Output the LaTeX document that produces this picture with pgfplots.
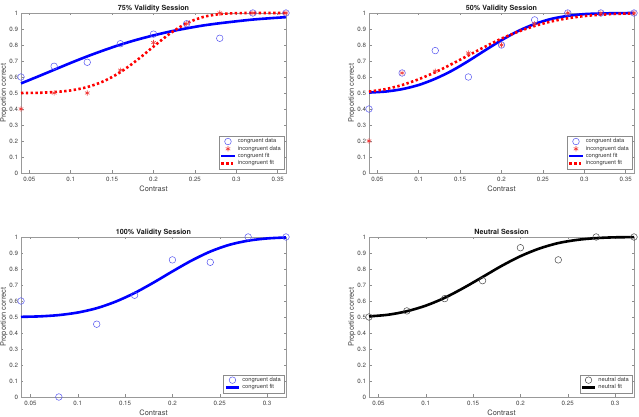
\documentclass[border=0pt]{standalone}
\usepackage{fontspec}
\setmainfont{TeX Gyre Heros}
\usepackage{pgfplots}
\pgfplotsset{compat=1.18}

\definecolor{congr}{RGB}{0,0,255}
\definecolor{congrpt}{RGB}{85,85,240}
\definecolor{incon}{RGB}{255,0,0}
\definecolor{inconpt}{RGB}{240,60,60}
\definecolor{neutpt}{RGB}{70,70,70}

\pgfplotsset{
  psy/.style={
    scale only axis, width=265bp, height=160bp,
    xmin=0.04, ymin=0, ymax=1, clip=false,
    /pgf/number format/assume math mode=true,
    scaled ticks=false,
    ytick={0,0.1,0.2,0.3,0.4,0.5,0.6,0.7,0.8,0.9,1},
    yticklabels={0,0.1,0.2,0.3,0.4,0.5,0.6,0.7,0.8,0.9,1},
    tick align=inside, major tick length=2.5bp,
    axis line style={black!40, line width=0.45bp},
    tick style={black!45, line width=0.45bp},
    tick label style={font=\fontsize{6.2}{7}\selectfont, text=black!75},
    xticklabel style={yshift=-0.5bp},
    yticklabel style={xshift=0.5bp},
    xlabel=Contrast, ylabel=Proportion correct,
    xlabel style={at={(axis description cs:0.5,0)}, anchor=center, yshift=-16bp,
      font=\fontsize{7.5}{8}\selectfont, text=black!75},
    ylabel style={at={(axis description cs:-0.064,0.5)}, anchor=center,
      font=\fontsize{7.5}{8}\selectfont, text=black!75},
    every axis title shift=0pt,
    title style={at={(axis description cs:0.5,1)}, anchor=base, yshift=2.6bp,
      font=\bfseries\fontsize{7.2}{8}\selectfont, text=black!90},
    legend cell align=left,
    legend style={at={(axis description cs:1,0)}, anchor=south east,
      xshift=-2bp, yshift=4bp, draw=black!45, line width=0.4bp, fill=white,
      inner xsep=1bp, inner ysep=0.5bp, row sep=-2.4bp,
      font=\fontsize{5.8}{6.5}\selectfont, text=black!80,
      /tikz/every even column/.append style={column sep=0.5bp}},
    legend image code/.code={%
      \draw[mark repeat=2, mark phase=2, #1]
        plot coordinates {(0bp,0bp) (6.5bp,0bp) (13bp,0bp)};},
  },
  cdata/.style={only marks, mark=o, mark size=3.3bp, draw=congrpt,
    mark options={line width=0.5bp, draw=congrpt}},
  idata/.style={only marks, mark=asterisk, mark size=2.6bp, draw=inconpt,
    mark options={line width=0.6bp, draw=inconpt}},
  ndata/.style={only marks, mark=o, mark size=3.3bp, draw=neutpt,
    mark options={line width=0.5bp, draw=neutpt}},
  cfit/.style={no marks, smooth, congr, line width=2.6bp},
  ifit/.style={no marks, smooth, incon, line width=2.6bp,
    dash pattern=on 2.4bp off 2.4bp},
  nfit/.style={no marks, smooth, black, line width=2.6bp},
}

\begin{document}
\begin{tikzpicture}
\useasboundingbox (0,0) rectangle (639bp,417bp);

% ---------------- 75% validity ----------------
\begin{axis}[psy, at={(21bp,244bp)}, anchor=south west, xmax=0.36,
  xtick={0.05,0.1,0.15,0.2,0.25,0.3,0.35},
  xticklabels={0.05,0.1,0.15,0.2,0.25,0.3,0.35},
  title={75\% Validity Session}]
\addplot[cdata] coordinates {(0.04,0.600) (0.08,0.667) (0.12,0.692) (0.16,0.808)
  (0.20,0.868) (0.24,0.933) (0.28,0.842) (0.32,1.000) (0.36,1.000)};
\addlegendentry{congruent data}
\addplot[idata] coordinates {(0.04,0.400) (0.08,0.500) (0.12,0.500) (0.16,0.643)
  (0.20,0.815) (0.24,0.933) (0.28,1.000) (0.32,1.000) (0.36,1.000)};
\addlegendentry{incongruent data}
\addplot[cfit] coordinates {(0.04,0.560) (0.06,0.602) (0.08,0.645) (0.10,0.688)
  (0.12,0.729) (0.14,0.767) (0.16,0.802) (0.18,0.833) (0.20,0.860) (0.22,0.884)
  (0.24,0.904) (0.26,0.922) (0.28,0.936) (0.30,0.948) (0.32,0.959) (0.34,0.967)
  (0.36,0.974)};
\addlegendentry{congruent fit}
\addplot[ifit] coordinates {(0.04,0.500) (0.06,0.501) (0.08,0.506) (0.10,0.516)
  (0.12,0.537) (0.14,0.574) (0.16,0.630) (0.18,0.705) (0.20,0.790) (0.22,0.872)
  (0.24,0.936) (0.26,0.975) (0.28,0.993) (0.30,0.999) (0.32,1.000) (0.34,1.000)
  (0.36,1.000)};
\addlegendentry{incongruent fit}
\end{axis}

% ---------------- 50% validity ----------------
\begin{axis}[psy, at={(369bp,244bp)}, anchor=south west, xmax=0.36,
  xtick={0.05,0.1,0.15,0.2,0.25,0.3,0.35},
  xticklabels={0.05,0.1,0.15,0.2,0.25,0.3,0.35},
  title={50\% Validity Session}]
\addplot[cdata] coordinates {(0.04,0.400) (0.08,0.625) (0.12,0.765) (0.16,0.600)
  (0.20,0.800) (0.24,0.957) (0.28,1.000) (0.32,1.000) (0.36,1.000)};
\addlegendentry{congruent data}
\addplot[idata] coordinates {(0.04,0.200) (0.08,0.625) (0.12,0.636) (0.16,0.750)
  (0.20,0.800) (0.24,0.933) (0.28,1.000) (0.32,1.000) (0.36,1.000)};
\addlegendentry{incongruent data}
\addplot[cfit] coordinates {(0.04,0.503) (0.06,0.509) (0.08,0.524) (0.10,0.550)
  (0.12,0.589) (0.14,0.639) (0.16,0.700) (0.18,0.766) (0.20,0.830) (0.22,0.887)
  (0.24,0.931) (0.26,0.963) (0.28,0.982) (0.30,0.993) (0.32,0.997) (0.34,0.999)
  (0.36,1.000)};
\addlegendentry{congruent fit}
\addplot[ifit] coordinates {(0.04,0.509) (0.06,0.524) (0.08,0.550) (0.10,0.586)
  (0.12,0.630) (0.14,0.681) (0.16,0.735) (0.18,0.789) (0.20,0.840) (0.22,0.883)
  (0.24,0.919) (0.26,0.947) (0.28,0.967) (0.30,0.981) (0.32,0.989) (0.34,0.995)
  (0.36,0.997)};
\addlegendentry{incongruent fit}
\end{axis}

% ---------------- 100% validity ----------------
\begin{axis}[psy, at={(21bp,20bp)}, anchor=south west, xmax=0.32,
  xtick={0.05,0.1,0.15,0.2,0.25,0.3},
  xticklabels={0.05,0.1,0.15,0.2,0.25,0.3},
  title={100\% Validity Session}]
\addplot[cdata] coordinates {(0.04,0.600) (0.08,0.000) (0.12,0.455) (0.16,0.636)
  (0.20,0.857) (0.24,0.842) (0.28,1.000) (0.32,1.000)};
\addlegendentry{congruent data}
\addplot[cfit] coordinates {(0.04,0.501) (0.06,0.504) (0.08,0.512) (0.10,0.528)
  (0.12,0.555) (0.14,0.596) (0.16,0.650) (0.18,0.715) (0.20,0.785) (0.22,0.852)
  (0.24,0.909) (0.26,0.951) (0.28,0.977) (0.30,0.991) (0.32,0.997)};
\addlegendentry{congruent fit}
\end{axis}

% ---------------- neutral ----------------
\begin{axis}[psy, at={(369bp,20bp)}, anchor=south west, xmax=0.32,
  xtick={0.05,0.1,0.15,0.2,0.25,0.3},
  xticklabels={0.05,0.1,0.15,0.2,0.25,0.3},
  title={Neutral Session}]
\addplot[ndata] coordinates {(0.04,0.500) (0.08,0.538) (0.12,0.615) (0.16,0.727)
  (0.20,0.933) (0.24,0.857) (0.28,1.000) (0.32,1.000)};
\addlegendentry{neutral data}
\addplot[nfit] coordinates {(0.04,0.504) (0.06,0.514) (0.08,0.536) (0.10,0.571)
  (0.12,0.620) (0.14,0.682) (0.16,0.750) (0.18,0.819) (0.20,0.880) (0.22,0.928)
  (0.24,0.962) (0.26,0.982) (0.28,0.993) (0.30,0.998) (0.32,0.999)};
\addlegendentry{neutral fit}
\end{axis}
\end{tikzpicture}
\end{document}
